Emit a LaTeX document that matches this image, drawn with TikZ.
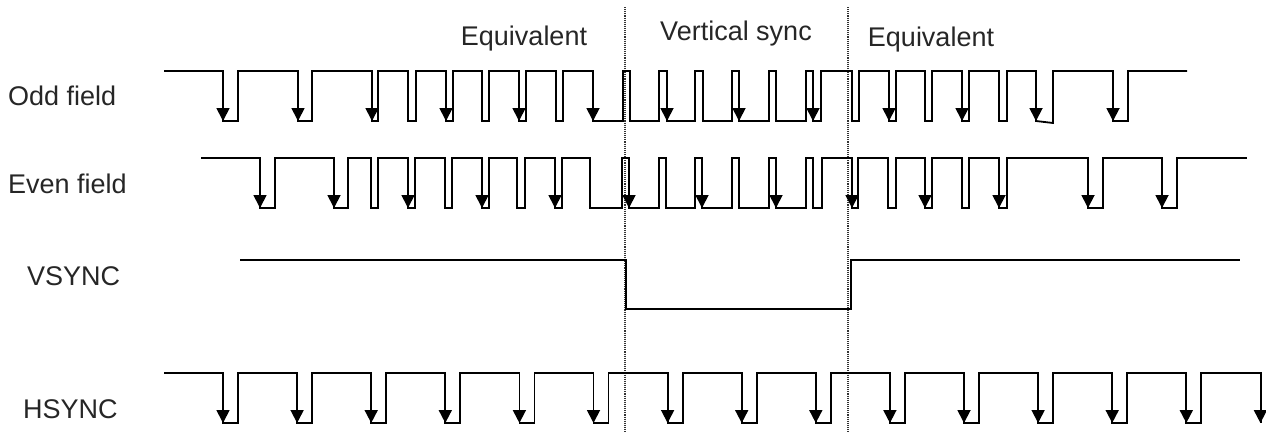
\documentclass[tikz,border=0pt]{standalone}
\usepackage{fontspec}
\setmainfont{Liberation Sans}
\usetikzlibrary{arrows.meta}
\begin{document}
\begin{tikzpicture}[x=1pt,y=-1pt,
	sig/.style={draw=black, line width=1.8pt},
	tip/.style={sig, -{Triangle[length=13pt,width=13pt]}},
	lbl/.style={font=\fontsize{27}{32}\selectfont, text=black!85, inner sep=0pt, anchor=base west},
	zone/.style={font=\fontsize{27}{32}\selectfont, text=black!85, inner sep=0pt, anchor=base}]

	\useasboundingbox (0,0) rectangle (1266,432);

	\def\oddHi{71}
	\def\oddLo{121}
	\def\evenHi{158}
	\def\evenLo{208}
	\def\vHi{260}
	\def\vLo{309}
	\def\hHi{373}
	\def\hLo{423}

	%DOTTED
	\draw[densely dotted, line width=1.1pt, black!80]
		(625,7) -- (625,432)
		(848,7) -- (848,432)
	;

	%SIGNAL: ODD FIELD
	\draw[sig] (164,\oddHi)
		\foreach \f/\r in {223/238,298/312,372/378,408/416,446/453,482/489,519/526,556/563,593/623,630/659,667/695,703/732,739/769,776/806,813/821,852/859,889/896,925/932,962/969,999/1007}{ -| (\f,\oddLo) -| (\r,\oddHi) }
		-| (1036,\oddLo) -- (1053,\oddLo+2) -- (1053,\oddHi) -| (1113,\oddLo) -| (1128,\oddHi) -- (1187,\oddHi);
	\foreach \x in {223,298,372,446,519,593,667,739,813,889,962,1036,1113}
		\draw[tip] (\x,\oddHi) -- (\x,\oddLo);

	%SIGNAL: EVEN FIELD
	\draw[sig] (201,\evenHi)
		\foreach \f/\r in {260/275,334/348,371/378,408/415,445/452,482/489,517/525,555/562,590/622,629/659,666/695,702/732,739/769,776/806,813/822,852/858,888/896,925/932,962/969,999/1007,1088/1103,1162/1177}{ -| (\f,\evenLo) -| (\r,\evenHi) }
		-- (1247,\evenHi);
	\foreach \x in {260,334,408,482,555,629,702,776,852,925,999,1088,1162}
		\draw[tip] (\x,\evenHi) -- (\x,\evenLo);

	%SIGNAL: VSYNC
	\draw[sig] (240,\vHi) -| (626,\vLo) -| (851,\vHi) -- (1240,\vHi);

	%SIGNAL: HSYNC
	\draw[sig] (164,\hHi)
		\foreach \i in {0,...,13}{ -| ({223+74.1*\i},\hLo) -| ({238+74.1*\i},\hHi) }
		-| (1261,\hLo);
	\foreach \i in {0,...,14}
		\draw[tip] ({223+74.1*\i},\hHi) -- ({223+74.1*\i},\hLo);

	%LABELS
	\node[lbl] (oddLbl) at (8,105) {Odd field};
	\node[lbl] (evenLbl) at (8,193) {Even field};
	\node[lbl] (vsyncLbl) at (27,285) {VSYNC};
	\node[lbl] (hsyncLbl) at (23,418) {HSYNC};
	\node[zone] (equA) at (524,45) {Equivalent};
	\node[zone] (vsyncZone) at (736,40) {Vertical sync};
	\node[zone] (equB) at (931,46) {Equivalent};

\end{tikzpicture}
\end{document}
